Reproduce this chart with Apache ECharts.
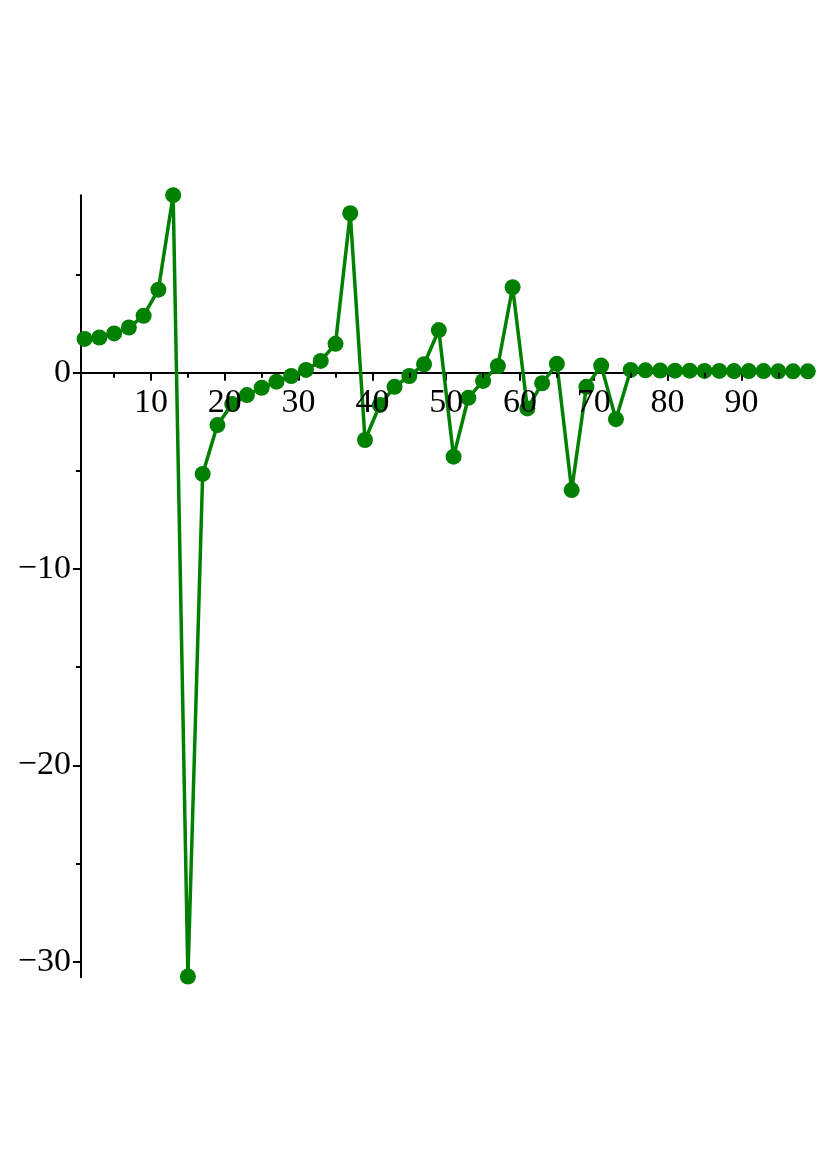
<!DOCTYPE html>
<html>
<head>
<meta charset="utf-8">
<script src="https://cdn.jsdelivr.net/npm/echarts@6/dist/echarts.min.js"></script>
<style>
html,body{margin:0;padding:0;background:#fff;}
#chart{width:831px;height:1175px;}
</style>
</head>
<body>
<div id="chart"></div>
<script>
const xValues = [1,3,5,7,9,11,13,15,17,19,21,23,25,27,29,31,33,35,37,39,41,43,45,47,49,
                 51,53,55,57,59,61,63,65,67,69,71,73,75,77,79,81,83,85,87,89,91,93,95,97,99];
const yValues = [1.72,1.79,2.0,2.3,2.9,4.23,9.04,-30.76,-5.16,-2.67,-1.6,-1.14,-0.77,-0.46,-0.17,
                 0.14,0.6,1.47,8.12,-3.43,-1.65,-0.72,-0.17,0.43,2.17,-4.28,-1.28,-0.42,0.34,4.35,
                 -1.82,-0.54,0.45,-5.98,-0.72,0.36,-2.37,0.14,0.12,0.11,0.1,0.1,0.09,0.09,0.08,0.08,
                 0.08,0.07,0.07,0.07];
const xMajorTicks = [10,20,30,40,50,60,70,80,90];
const xMinorTicks = [5,15,25,35,45,55,65,75,85,95];
const xTickLabels = [10,20,30,40,50,60,70,80,90];
const yMajorTicks = [-30,-20,-10,0];
const yMinorTicks = [-25,-15,-5,5];
const yTickLabels = [-30,-20,-10,0];

const X_MIN = 0.5, X_MAX = 99, Y_MIN = -30.8, Y_MAX = 9.04;
const gridBox = {left: 80.9, right: 23.2, top: 195.2, bottom: 197.7};
const font = {fontFamily: 'Liberation Serif', fontSize: 34, color: '#000'};
const axisColor = '#000';
const fmt = v => v < 0 ? '\u2212' + Math.abs(v) : String(v);
// distance (px) from the grid's bottom edge up to y = 0, used to place the label-only x axis
const plotH = 1175 - gridBox.top - gridBox.bottom;
const zeroOffset = -plotH * (0 - Y_MIN) / (Y_MAX - Y_MIN);

const chart = echarts.init(document.getElementById('chart'), null, {renderer: 'canvas'});
chart.setOption({
  animation: false,
  backgroundColor: '#fff',
  grid: [
    Object.assign({containLabel: false}, gridBox),
    Object.assign({containLabel: false}, gridBox)
  ],
  xAxis: [
    {
      type: 'value', gridIndex: 0, min: X_MIN, max: X_MAX, position: 'bottom',
      axisLine: {show: true, onZero: true, lineStyle: {color: axisColor, width: 2}},
      axisTick: {show: true, customValues: xMajorTicks, length: 8, lineStyle: {color: axisColor, width: 2}},
      axisLabel: {show: false},
      splitLine: {show: false}
    },
    {
      type: 'value', gridIndex: 1, min: X_MIN, max: X_MAX, position: 'bottom', z: 5,
      offset: zeroOffset,
      axisLine: {show: false, onZero: false},
      axisTick: {show: true, customValues: xMinorTicks, length: 5, lineStyle: {color: axisColor, width: 2}},
      axisLabel: Object.assign({show: true, customValues: xTickLabels, margin: 13, formatter: fmt}, font),
      splitLine: {show: false}
    }
  ],
  yAxis: [
    {
      type: 'value', gridIndex: 0, min: Y_MIN, max: Y_MAX, position: 'left',
      axisLine: {show: true, onZero: false, lineStyle: {color: axisColor, width: 2}},
      axisTick: {show: true, customValues: yMajorTicks, length: 8, lineStyle: {color: axisColor, width: 2}},
      axisLabel: Object.assign({show: true, customValues: yTickLabels, margin: 10, formatter: fmt}, font),
      splitLine: {show: false}
    },
    {
      type: 'value', gridIndex: 1, min: Y_MIN, max: Y_MAX, position: 'left',
      axisLine: {show: false, onZero: false},
      axisTick: {show: true, customValues: yMinorTicks, length: 5, lineStyle: {color: axisColor, width: 2}},
      axisLabel: {show: false},
      splitLine: {show: false}
    }
  ],
  series: [{
    type: 'line',
    xAxisIndex: 0, yAxisIndex: 0,
    data: xValues.map((x, i) => [x, yValues[i]]),
    symbol: 'circle',
    symbolSize: 16,
    showSymbol: true,
    clip: false,
    lineStyle: {color: '#008000', width: 3.5},
    itemStyle: {color: '#008000'},
    z: 3
  }]
});
</script>
</body>
</html>
